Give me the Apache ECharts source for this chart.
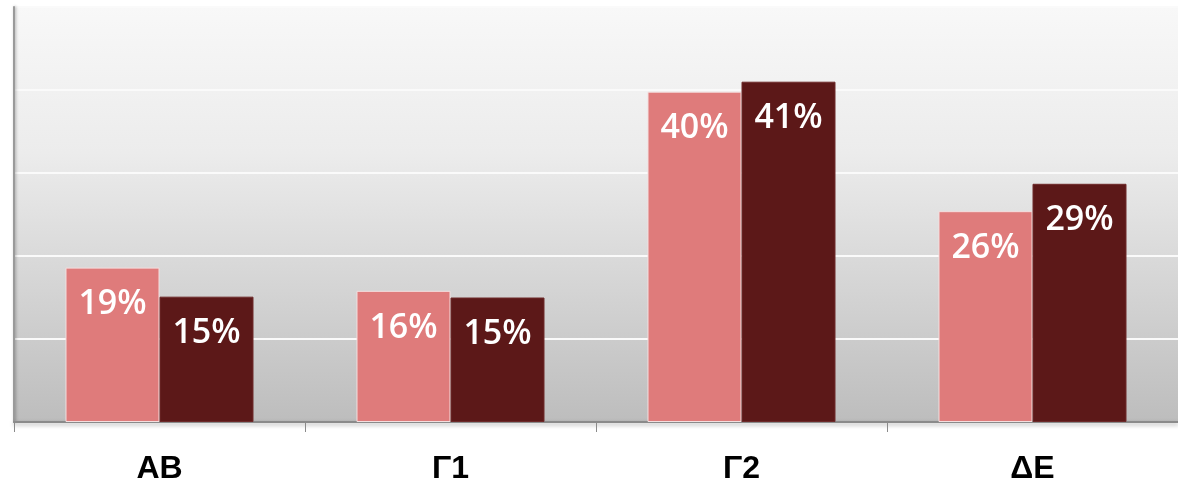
<!DOCTYPE html>
<html><head><meta charset="utf-8">
<script src="https://cdn.jsdelivr.net/npm/echarts@6/dist/echarts.min.js"></script>
<style>html,body{margin:0;padding:0;background:#fff}#c{width:1178px;height:485px}</style>
</head><body><div id="c"></div>
<script>
const categories = ['AB', 'Γ1', 'Γ2', 'ΔΕ'];
const seriesA = [18.6, 15.8, 39.8, 25.4];
const seriesB = [15.1, 15.0, 41.0, 28.7];
const labelsA = ['19%', '16%', '40%', '26%'];
const labelsB = ['15%', '15%', '41%', '29%'];

const chart = echarts.init(document.getElementById('c'));
const lbl = (arr) => ({
  show: true, position: 'insideTop', distance: 20,
  color: '#fff', fontSize: 34, fontFamily: 'Open Sans', fontWeight: 600,
  formatter: p => arr[p.dataIndex]
});
chart.setOption({
  animation: false,
  grid: {
    left: 14, right: 0, top: 7, bottom: 61, show: true, borderWidth: 0,
    backgroundColor: new echarts.graphic.LinearGradient(0, 0, 0, 1, [
      {offset: 0, color: '#f8f8f8'}, {offset: 0.35, color: '#ececec'}, {offset: 1, color: '#bdbdbd'}
    ])
  },
  xAxis: {
    type: 'category', data: categories,
    axisLine: {show: true, lineStyle: {color: '#8a8a8a', width: 2, shadowColor: 'rgba(0,0,0,0.35)', shadowBlur: 4, shadowOffsetY: 2}},
    axisTick: {show: true, length: 10, lineStyle: {color: '#8a8a8a', width: 1}},
    axisLabel: {color: '#000', fontSize: 32, fontWeight: 'bold', fontFamily: 'Liberation Sans', margin: 31}
  },
  yAxis: {
    type: 'value', min: 0, max: 50, interval: 10,
    axisLine: {show: true, lineStyle: {color: '#9a9a9a', width: 2, shadowColor: 'rgba(0,0,0,0.3)', shadowBlur: 3, shadowOffsetX: 1}},
    axisLabel: {show: false}, axisTick: {show: false},
    splitLine: {show: true, lineStyle: {color: '#fafafa', width: 2}}
  },
  series: [
    {type: 'bar', data: seriesA, barWidth: 94, barGap: '0%',
     itemStyle: {color: '#df7b7b', borderColor: '#f4dede', borderWidth: 1}, label: lbl(labelsA)},
    {type: 'bar', data: seriesB, barWidth: 94, barGap: '0%',
     itemStyle: {color: '#5c1818', borderColor: '#6e2a2a', borderWidth: 1}, label: lbl(labelsB)}
  ]
});
</script></body></html>
